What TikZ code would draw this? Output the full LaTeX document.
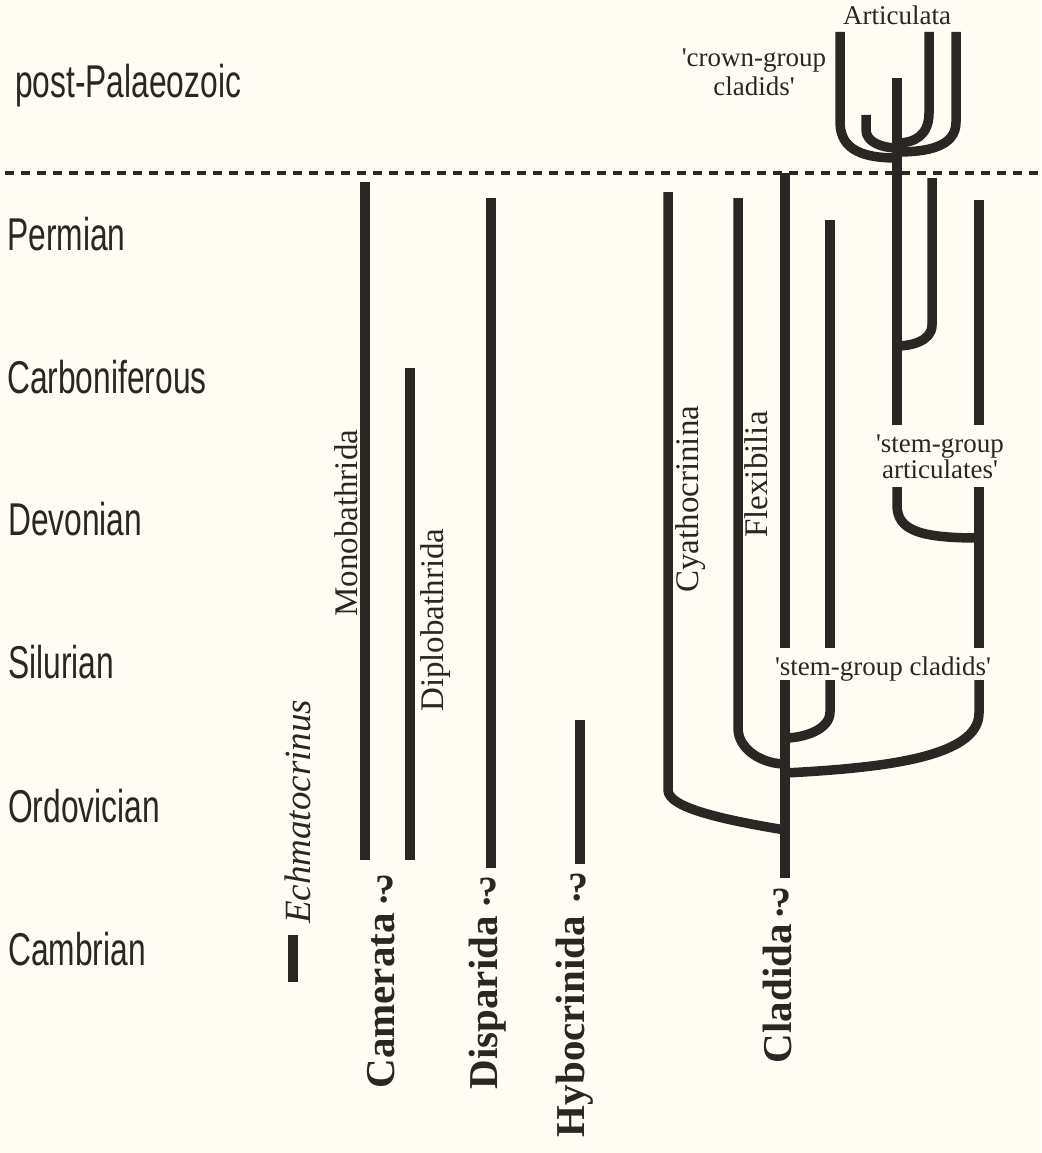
\documentclass[tikz,border=0pt]{standalone}
\usepackage{fontspec}
\setmainfont{Liberation Serif}[Ligatures=TeXOff]
\newfontfamily\condsans[FakeStretch=0.69]{Liberation Sans}
\definecolor{ink}{HTML}{2A2624}
\definecolor{paper}{HTML}{FEFDF3}
\begin{document}
\begin{tikzpicture}[x=1pt,y=-1pt,
  bar/.style={line width=10pt, draw=ink, line cap=butt},
  br/.style={line width=9.5pt, draw=ink, line cap=butt, line join=round},
  era/.style={font=\condsans\fontsize{46}{50}\selectfont, text=ink, anchor=base west, inner sep=0pt},
  grp/.style={font=\fontsize{33}{36}\selectfont, text=ink, rotate=90, anchor=base west, inner sep=0pt},
  big/.style={font=\bfseries\fontsize{41}{44}\selectfont, text=ink, rotate=90, anchor=base east, inner sep=0pt},
  qm/.style={font=\bfseries\fontsize{40}{44}\selectfont, text=ink, inner sep=0pt},
  lab/.style={font=\fontsize{27}{30}\selectfont, text=ink, anchor=base, inner sep=0pt},
]
\fill[paper] (0,0) rectangle (1041,1153);
\useasboundingbox (0,0) rectangle (1041,1153);

% period labels
\node[era] (tpost) at (15,98) {post-Palaeozoic};
\node[era] (tperm) at (7,250) {Permian};
\node[era] (tcarb) at (7,393) {Carboniferous};
\node[era] (tdev) at (8,535) {Devonian};
\node[era] (tsil) at (8,678) {Silurian};
\node[era] (tord) at (8,822) {Ordovician};
\node[era] (tcam) at (8,965) {Cambrian};

% dashed boundary
\coordinate (dL) at (5,173);
\coordinate (dR) at (1041,173);
\draw[ink, line width=3.5pt, dash pattern=on 9pt off 7pt] (dL) -- (dR);

% simple bars
\coordinate (echT) at (293,935); \coordinate (echB) at (293,982);
\coordinate (monT) at (365,182); \coordinate (monB) at (365,860);
\coordinate (dipT) at (410,368); \coordinate (dipB) at (410,860);
\coordinate (disT) at (491,198); \coordinate (disB) at (491,868);
\coordinate (hybT) at (580,720); \coordinate (hybB) at (580,864);
\draw[bar] (echT) -- (echB);
\draw[bar] (monT) -- (monB);
\draw[bar] (dipT) -- (dipB);
\draw[bar] (disT) -- (disB);
\draw[bar] (hybT) -- (hybB);

% Cladida tree
\coordinate (claT) at (785,173); \coordinate (claG1) at (785,648);
\coordinate (claG2) at (785,680); \coordinate (claB) at (785,878);
\draw[bar] (claT) -- (claG1);
\draw[bar] (claG2) -- (claB);

\coordinate (cyaT) at (668,192); \coordinate (cyaK) at (668,790); \coordinate (cyaJ) at (785,830);
\draw[br] (cyaT) -- (cyaK) .. controls +(0,18) and +(-60,-10) .. (cyaJ);

\coordinate (flxT) at (738,198); \coordinate (flxK) at (738,728); \coordinate (flxJ) at (785,764);
\draw[br] (flxT) -- (flxK) .. controls +(0,22) and +(-22,0) .. (flxJ);

\coordinate (scT) at (830,220); \coordinate (scG1) at (830,648);
\coordinate (scG2) at (830,680); \coordinate (scK) at (830,712); \coordinate (scJ) at (785,738);
\draw[bar] (scT) -- (scG1);
\draw[br] (scG2) -- (scK) .. controls +(0,18) and +(18,0) .. (scJ);

\coordinate (arT) at (979,200); \coordinate (arG1) at (979,425);
\coordinate (arG2) at (979,487); \coordinate (arG3) at (979,648);
\coordinate (arG4) at (979,680); \coordinate (arK) at (979,713); \coordinate (arJ) at (785,773);
\draw[bar] (arT) -- (arG1);
\draw[bar] (arG2) -- (arG3);
\draw[br] (arG4) -- (arK) .. controls +(0,45) and +(95,-5) .. (arJ);

\coordinate (sgaT) at (897,487); \coordinate (sgaK) at (897,505); \coordinate (sgaJ) at (979,538);
\draw[br] (sgaT) -- (sgaK) .. controls +(0,25) and +(-60,0) .. (sgaJ);

% articulate stem and crown group
\coordinate (stemT) at (897,78); \coordinate (stemB) at (897,425);
\draw[bar] (stemT) -- (stemB);
\coordinate (a2T) at (932,178); \coordinate (a2K) at (932,325); \coordinate (a2J) at (897,346);
\draw[br] (a2T) -- (a2K) .. controls +(0,17) and +(12,0) .. (a2J);

\coordinate (c1T) at (840,32); \coordinate (c1K) at (840,122); \coordinate (c1J) at (897,158);
\coordinate (c2T) at (866,115); \coordinate (c2K) at (866,130); \coordinate (c2J) at (897,148);
\coordinate (c3T) at (929,32); \coordinate (c3K) at (929,113); \coordinate (c3J) at (897,143);
\coordinate (c4T) at (956,32); \coordinate (c4K) at (956,122); \coordinate (c4J) at (897,152);
\draw[br] (c1T) -- (c1K) .. controls +(0,30) and +(-30,0) .. (c1J);
\draw[br] (c2T) -- (c2K) .. controls +(0,12) and +(-15,0) .. (c2J);
\draw[br] (c3T) -- (c3K) .. controls +(0,22) and +(18,0) .. (c3J);
\draw[br] (c4T) -- (c4K) .. controls +(0,25) and +(30,0) .. (c4J);

% group names along bars
\node[grp, font=\itshape\fontsize{37}{40}\selectfont] (techm) at (310,924) {Echmatocrinus};
\node[grp] (tmono) at (357,617) {Monobathrida};
\node[grp] (tdipl) at (443,712) {Diplobathrida};
\node[grp] (tcyat) at (698,593) {Cyathocrinina};
\node[grp] (tflex) at (767,538) {Flexibilia};

% main group names
\node[big] (tcamer) at (394,913) {Camerata};
\node[big] (tdispa) at (497,916) {Disparida};
\node[big] (thybo) at (584,916) {Hybocrinida};
\node[big] (tclad) at (791,924) {Cladida};
\node[qm] (qcam) at (385,890) {?};
\node[qm] (qdis) at (488,892) {?};
\node[qm] (qhyb) at (578,888) {?};
\node[qm] (qcla) at (781,903) {?};

% other labels
\node[lab] (tart) at (897,25) {Articulata};
\node[lab] (tcg1) at (754,67) {'crown-group};
\node[lab] (tcg2) at (754,96) {cladids'};
\node[lab] (tsa1) at (940,452) {'stem-group};
\node[lab] (tsa2) at (940,478) {articulates'};
\node[lab] (tsc) at (883,675) {'stem-group cladids'};
\end{tikzpicture}
\end{document}
